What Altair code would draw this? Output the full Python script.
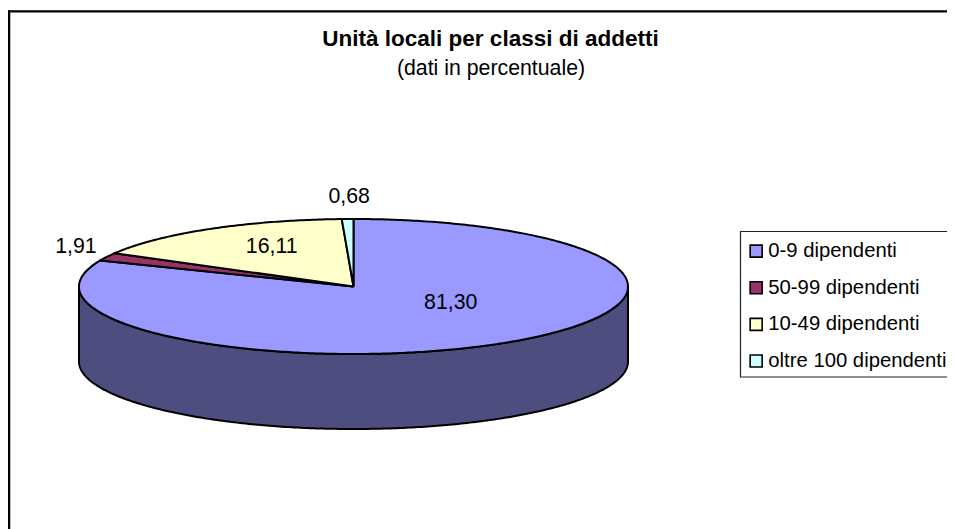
import numpy as np
import pandas as pd
import altair as alt

categories = ["0-9 dipendenti", "50-99 dipendenti", "10-49 dipendenti", "oltre 100 dipendenti"]
values = [81.30, 1.91, 16.11, 0.68]
value_labels = ["81,30", "1,91", "16,11", "0,68"]
colors = ["#9999FF", "#993366", "#FFFFCC", "#CCFFFF"]
label_u = [0.354, -1.011, -0.298, -0.016]
label_v = [-0.244, 0.59, 0.59, 1.327]

W, H = 939, 521
CX, CY, RX, RY, DEPTH = 345.5, 278.5, 274.5, 67.5, 75
x_dom = [-CX / RX, (W - CX) / RX]
y_dom = [-(H - CY) / RY, CY / RY]
x_s = alt.Scale(domain=x_dom, range=[0, W], nice=False, zero=False)
y_s = alt.Scale(domain=y_dom, range=[H, 0], nice=False, zero=False)
depth_u = DEPTH / RY


def arc_pts(a0, a1):
    n = max(2, int(abs(a1 - a0) * 1.5))
    t = np.radians(np.linspace(a0, a1, n))
    return np.sin(t), np.cos(t)


rows = []
start = 0.0
for cat, v in zip(categories, values):
    end = start + v * 3.6
    u, w = arc_pts(start, end)
    us = [0.0] + list(u) + [0.0]
    ws = [0.0] + list(w) + [0.0]
    for i, (a, b) in enumerate(zip(us, ws)):
        rows.append({"cat": cat, "u": float(a), "v": float(b), "i": i})
    start = end
top = pd.DataFrame(rows)

u, w = arc_pts(90, 270)
su = list(u) + list(u[::-1]) + [u[0]]
sv = list(w) + list(w[::-1] - depth_u) + [w[0]]
side = pd.DataFrame({"u": su, "v": sv, "i": range(len(su))})

labels = pd.DataFrame({"t": value_labels, "u": label_u, "v": label_v})

X = alt.X("u:Q", scale=x_s, axis=None)
Y = alt.Y("v:Q", scale=y_s, axis=None)
FONT = "Liberation Sans"
one = pd.DataFrame({"a": [0]})

side_l = alt.Chart(side).mark_line(
    fill="#4D4D80", stroke="black", strokeWidth=2, strokeJoin="round"
).encode(x=X, y=Y, order="i:Q")

top_l = alt.Chart(top).mark_line(
    stroke="black", strokeWidth=2, strokeJoin="round"
).encode(
    x=X, y=Y, order="i:Q",
    fill=alt.Fill("cat:N", scale=alt.Scale(domain=categories, range=colors),
        legend=alt.Legend(
            orient="none", legendX=738, legendY=233, title=None,
            symbolType="square", symbolSize=144, symbolStrokeColor="black",
            symbolStrokeWidth=1.6, symbolOpacity=1,
            labelFont=FONT, labelFontSize=20.3, labelColor="black", labelLimit=0,
            labelOffset=2, rowPadding=15.6, padding=0,
        )),
)

legend_box = alt.Chart(one).mark_rect(
    fill="white", stroke="#222222", strokeWidth=1.2
).encode(x=alt.value(732.5), x2=alt.value(W + 10), y=alt.value(223.5), y2=alt.value(369))

label_l = alt.Chart(labels).mark_text(
    font=FONT, fontSize=21.3, color="black", baseline="middle", align="center"
).encode(x=X, y=Y, text="t:N")

title_df = pd.DataFrame({"t": ["Unità locali per classi di addetti"]})
sub_df = pd.DataFrame({"t": ["(dati in percentuale)"]})
title_l = alt.Chart(title_df).mark_text(
    font=FONT, fontSize=22.5, fontWeight="bold", color="black", baseline="alphabetic"
).encode(x=alt.value(482.5), y=alt.value(38), text="t:N")
sub_l = alt.Chart(sub_df).mark_text(
    font=FONT, fontSize=21.3, color="black", baseline="alphabetic"
).encode(x=alt.value(483), y=alt.value(67), text="t:N")

frame_left = alt.Chart(one).mark_rule(color="black", strokeWidth=2.3).encode(
    x=alt.value(1.1), y=alt.value(2.2), y2=alt.value(H))
frame_top = alt.Chart(one).mark_rule(color="black", strokeWidth=2.3).encode(
    y=alt.value(3.3), x=alt.value(0), x2=alt.value(W))

chart = alt.layer(frame_left, frame_top, legend_box, side_l, top_l, label_l, title_l, sub_l).properties(
    width=W, height=H, padding=0,
    autosize=alt.AutoSizeParams(type="none"),
).configure_view(stroke=None)

chart.save("out.html", embed_options={"renderer": "svg", "actions": False})
